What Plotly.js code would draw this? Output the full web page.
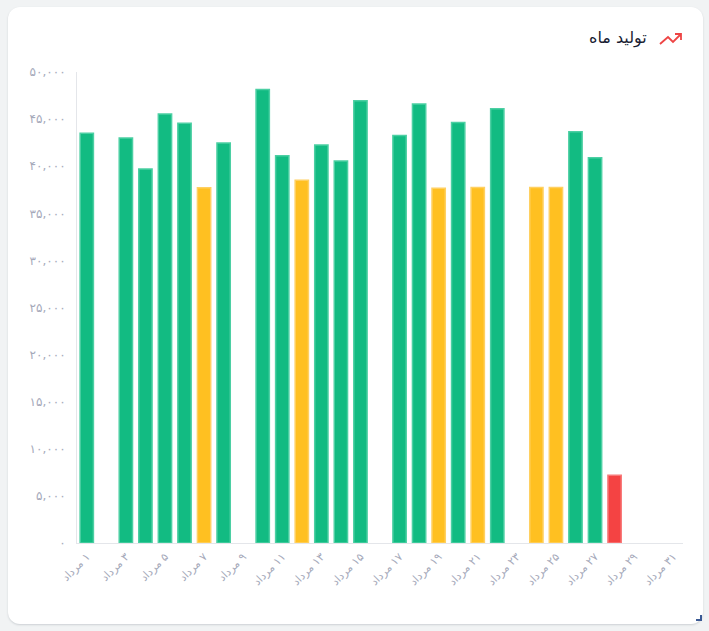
<!DOCTYPE html>
<html>
<head>
<meta charset="utf-8">
<script src="https://cdn.plot.ly/plotly-3.0.1.min.js"></script>
<style>
html, body { margin: 0; padding: 0; width: 709px; height: 631px; background: #f1f3f4; overflow: hidden; }
#card { position: absolute; left: 8px; top: 7px; width: 695px; height: 617px; background: #fff; border-radius: 12px; box-shadow: 0 1px 2px rgba(120,130,140,.3); }
#handle { position: absolute; left: 696px; top: 615px; width: 4px; height: 4px; border-right: 2px solid #3b5a94; border-bottom: 2px solid #3b5a94; }
#chart { position: absolute; left: 0; top: 0; width: 709px; height: 631px; }
</style>
</head>
<body>
<div id="card"></div>
<div id="handle"></div>
<div id="chart"></div>
<script>
const days = [1,2,3,4,5,6,7,8,9,10,11,12,13,14,15,16,17,18,19,20,21,22,23,24,25,26,27,28,29,30,31];
const production = [43500,null,43000,39700,45550,44550,37700,42450,null,48150,41100,38500,
  42250,40550,46950,null,43250,46600,37650,44650,37750,46100,null,37750,37750,43650,40900,7200,null,null,null];
const fills = ['g','g','g','g','g','g','y','g','g','g','g','y','g','g','g','g','g','g','y','g','y','g','g','y','y','g','g','r','g','g','g'];
const yTicks = [0,5000,10000,15000,20000,25000,30000,35000,40000,45000,50000];
const yLabels = ['۰','۵,۰۰۰','۱۰,۰۰۰','۱۵,۰۰۰','۲۰,۰۰۰','۲۵,۰۰۰','۳۰,۰۰۰','۳۵,۰۰۰','۴۰,۰۰۰','۴۵,۰۰۰','۵۰,۰۰۰'];
const xTicks = [1,3,5,7,9,11,13,15,17,19,21,23,25,27,29,31];
const xLabels = ['۱','۳','۵','۷','۹','۱۱','۱۳','۱۵','۱۷','۱۹','۲۱','۲۳','۲۵','۲۷','۲۹','۳۱'].map(d => '\u200F' + d + ' مرداد');

const fillColor = { g: '#12bb82', y: '#ffc021', r: '#f44343' };
const edgeColor = { g: '#4ccfa3', y: '#ffd061', r: '#f87a7a' };

const font = 'DejaVu Sans, sans-serif';

Plotly.newPlot('chart', [{
    type: 'bar',
    x: days,
    y: production,
    width: 0.68,
    marker: {
        color: fills.map(f => fillColor[f]),
        line: { color: fills.map(f => edgeColor[f]), width: 1.5 }
    }
}], {
    width: 709,
    height: 631,
    paper_bgcolor: 'rgba(0,0,0,0)',
    plot_bgcolor: 'rgba(0,0,0,0)',
    showlegend: false,
    margin: { l: 77, r: 26, t: 72, b: 88 },
    xaxis: {
        range: [0.5, 31.5],
        tickmode: 'array',
        tickvals: xTicks,
        ticktext: xLabels,
        tickangle: -45,
        tickfont: { family: font, size: 11, color: '#a5a9ba' },
        showgrid: false,
        zeroline: false,
        showline: true,
        linecolor: '#e4e6ea',
        linewidth: 1,
        ticks: 'outside',
        ticklen: 2,
        tickcolor: 'rgba(0,0,0,0)'
    },
    yaxis: {
        range: [0, 50000],
        tickmode: 'array',
        tickvals: yTicks,
        ticktext: yLabels,
        tickfont: { family: font, size: 12, color: '#a5a9ba' },
        showgrid: false,
        zeroline: false,
        showline: true,
        linecolor: '#e4e6ea',
        linewidth: 1,
        ticks: 'outside',
        ticklen: 8,
        tickcolor: 'rgba(0,0,0,0)'
    },
    annotations: [{
        text: 'تولید ماه',
        xref: 'paper', yref: 'paper',
        x: (649 - 77) / 606, y: (543 - 38) / 471,
        xanchor: 'right', yanchor: 'middle',
        showarrow: false,
        font: { family: font, size: 16, color: '#181c32' }
    }],
    // trending-up icon next to the title
    shapes: [{
        type: 'path',
        xref: 'paper', yref: 'paper',
        path: icon([[660,44],[668,37],[673,42],[681,34]]) + ' ' + icon([[675,34],[681,34],[681,40]]),
        line: { color: '#ee4444', width: 1.8 },
        layer: 'above'
    }]
}, { displayModeBar: false, staticPlot: true });

function icon(pts) {
    return pts.map((p, i) => (i ? 'L' : 'M') + ((p[0] - 77) / 606) + ',' + ((543 - p[1]) / 471)).join(' ');
}
</script>
</body>
</html>
